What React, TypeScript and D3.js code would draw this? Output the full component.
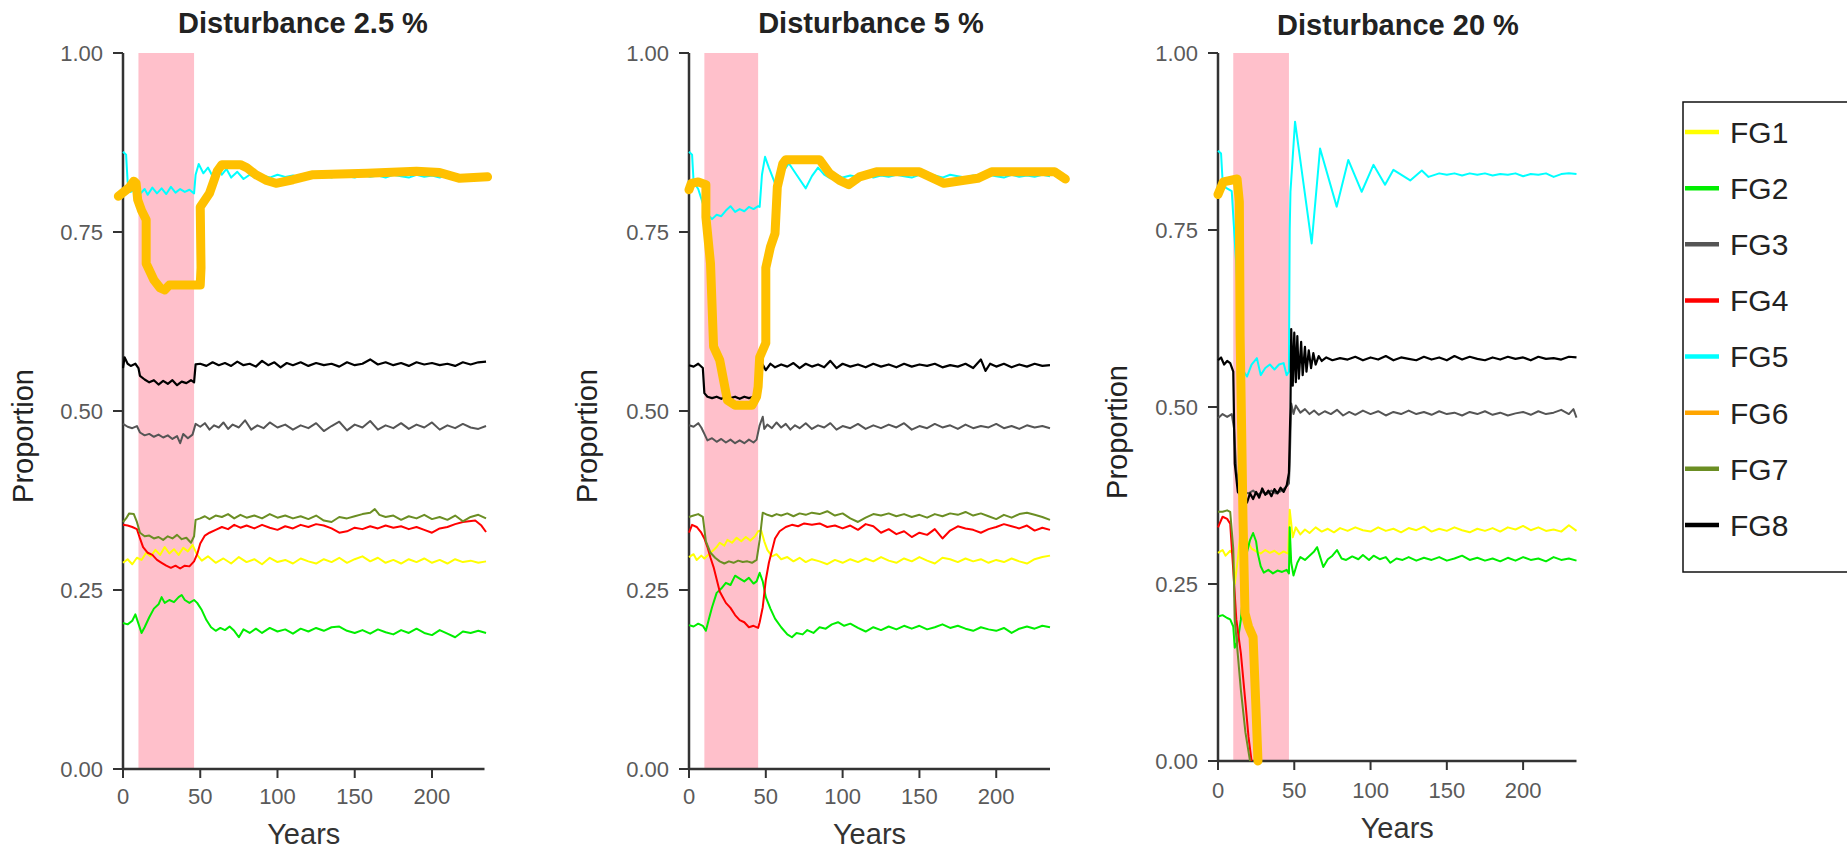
import React from "react";
import * as d3 from "d3";

// ---------- DATA (flat arrays: year, proportion, year, proportion, ...) ----------
const seriesNames = ["FG1", "FG2", "FG3", "FG4", "FG5", "FG6", "FG7", "FG8"];
const seriesColors = ["#FFFF00", "#00EE00", "#555555", "#FF0000", "#00FFFF", "#FFA500", "#6B8E23", "#000000"];
const panelTitles = ["Disturbance 2.5 %", "Disturbance 5 %", "Disturbance 20 %"];
const disturbanceWindows = [[10, 46], [10, 45], [10, 46.5]];
const xTickValues = [0, 50, 100, 150, 200];
const yTickValues = [0, 0.25, 0.5, 0.75, 1];

// Panel 1 : Disturbance 2.5 %
const p1FG1 = [0,.288,3,.293,6,.286,9,.295,12,.292,15,.302,18,.297,21,.306,24,.299,27,.31,30,.301,33,.307,36,.299,39,.309,42,.304,45,.313,48,.299,51,.291,55,.297,60,.288,65,.294,70,.287,75,.296,80,.289,85,.293,90,.286,95,.295,100,.289,105,.292,110,.287,115,.294,120,.29,125,.287,130,.293,135,.289,140,.295,145,.288,150,.293,155,.297,160,.29,165,.295,170,.288,175,.292,180,.287,185,.293,190,.289,195,.294,200,.288,205,.292,210,.287,215,.293,220,.289,225,.291,230,.288,235,.29];
const p1FG2 = [0,.204,3,.202,6,.207,8,.216,10,.203,12,.19,14,.198,17,.212,20,.224,23,.23,25,.24,27,.232,30,.236,33,.233,36,.24,38,.243,40,.236,43,.232,46,.236,48,.232,51,.222,54,.208,57,.198,60,.193,63,.197,66,.194,69,.199,72,.193,75,.184,78,.195,82,.19,86,.196,90,.19,95,.197,100,.192,105,.195,110,.189,115,.196,120,.192,125,.197,130,.193,135,.198,140,.199,145,.193,150,.19,155,.194,160,.189,165,.195,170,.191,175,.188,180,.194,185,.19,190,.196,195,.19,200,.187,205,.194,210,.189,215,.184,220,.192,225,.19,230,.193,235,.19];
const p1FG3 = [0,.482,3,.478,6,.476,9,.479,11,.47,14,.466,17,.468,20,.464,23,.467,26,.463,29,.466,32,.461,35,.465,37,.455,39,.468,42,.462,45,.467,47,.482,50,.478,53,.483,56,.474,59,.48,62,.477,65,.484,68,.475,71,.481,75,.477,79,.487,83,.474,87,.48,91,.476,95,.484,100,.477,105,.481,110,.474,115,.48,120,.476,125,.483,130,.472,135,.479,140,.485,145,.473,150,.481,155,.477,160,.486,165,.474,170,.48,175,.476,180,.483,185,.475,190,.481,195,.477,200,.484,205,.474,210,.48,215,.476,220,.482,225,.477,230,.475,235,.479];
const p1FG4 = [0,.341,3,.34,6,.338,9,.335,11,.322,13,.31,16,.302,19,.299,22,.292,25,.288,28,.284,31,.281,34,.284,37,.28,40,.284,43,.283,46,.29,48,.3,50,.315,53,.326,56,.33,60,.334,64,.338,68,.335,72,.341,76,.337,80,.34,85,.336,90,.341,95,.337,100,.334,105,.339,110,.336,115,.341,120,.338,125,.342,130,.34,135,.336,140,.33,145,.332,150,.337,155,.335,160,.339,165,.336,170,.34,175,.337,180,.339,185,.335,190,.338,195,.334,200,.33,205,.336,210,.338,215,.342,220,.345,228,.347,232,.34,235,.331];
const p1FG5 = [0,.862,2,.858,3,.82,5,.806,8,.81,11,.803,14,.81,16,.802,19,.812,22,.804,25,.811,28,.803,31,.813,34,.805,37,.81,40,.806,43,.809,46,.804,47,.83,49,.845,52,.832,55,.84,58,.828,61,.842,64,.83,67,.838,70,.826,74,.834,78,.824,82,.83,86,.826,90,.829,95,.826,100,.83,105,.827,110,.829,115,.826,120,.83,125,.827,130,.829,135,.826,140,.83,145,.828,150,.826,155,.83,160,.827,165,.829,170,.826,175,.83,180,.828,185,.826,190,.83,195,.827,200,.829,205,.826,210,.83,215,.828,220,.826,225,.829,230,.827,235,.829];
const p1FG6 = [-3,.80,4,.812,7,.821,8.5,.818,9.5,.795,12,.78,15,.767,15,.706,20,.683,24,.672,27,.669,30,.676,40,.676,50,.676,50.5,.70,50,.785,56,.804,61,.835,64,.844,76,.844,80,.84,86,.83,93,.822,99,.818,110,.823,123,.83,158,.832,190,.835,205,.833,218,.825,236,.827];
const p1FG7 = [0,.345,2,.35,4,.357,7,.356,9,.345,11,.33,14,.325,17,.326,20,.322,23,.324,26,.32,29,.325,32,.322,35,.327,38,.321,41,.323,44,.316,46,.325,47,.348,50,.35,53,.353,56,.349,60,.354,64,.352,68,.356,72,.35,76,.355,80,.351,85,.354,90,.35,95,.356,100,.351,105,.354,110,.35,115,.353,120,.349,125,.354,130,.347,135,.345,140,.352,145,.35,150,.353,155,.356,160,.358,163,.363,166,.355,170,.352,175,.354,180,.348,185,.353,190,.35,195,.355,200,.349,205,.352,210,.348,215,.354,220,.346,225,.352,230,.355,235,.35];
const p1FG8 = [0,.56,1,.575,3,.566,5,.563,8,.566,10,.56,11,.549,14,.544,17,.54,20,.543,23,.537,26,.542,29,.538,32,.543,35,.536,38,.541,41,.539,44,.543,46,.54,47,.565,50,.566,54,.563,58,.568,62,.564,66,.567,70,.563,74,.569,78,.564,82,.566,86,.562,90,.57,94,.564,98,.568,102,.561,106,.567,110,.564,115,.568,120,.563,125,.567,130,.564,135,.566,140,.562,145,.568,150,.564,155,.566,160,.572,165,.565,170,.568,175,.564,180,.567,185,.563,190,.568,195,.565,200,.567,205,.564,210,.566,215,.563,220,.568,225,.565,230,.568,235,.569];

// Panel 2 : Disturbance 5 %
const p2FG1 = [0,.296,3,.3,5,.292,8,.298,10,.294,13,.3,16,.306,18,.31,20,.316,23,.312,25,.32,28,.316,31,.323,34,.318,37,.324,40,.319,43,.325,45,.332,47,.333,49,.318,51,.306,54,.297,57,.3,60,.293,64,.296,68,.29,72,.295,76,.289,80,.293,85,.29,90,.286,95,.292,100,.288,105,.293,110,.289,115,.294,120,.29,125,.296,130,.291,135,.288,140,.294,145,.29,150,.296,155,.291,160,.287,165,.295,170,.293,175,.289,180,.294,185,.29,190,.293,195,.288,200,.292,205,.289,210,.294,215,.29,220,.287,225,.293,230,.296,235,.298];
const p2FG2 = [0,.201,3,.199,6,.203,9,.2,11,.193,13,.21,15,.226,18,.246,21,.252,24,.26,27,.257,30,.27,33,.266,36,.262,39,.267,42,.259,44,.262,46,.274,48,.262,50,.24,53,.224,56,.21,60,.198,64,.188,67,.184,70,.19,74,.188,77,.194,81,.19,85,.198,89,.196,93,.202,97,.205,101,.2,105,.203,110,.197,115,.192,120,.198,125,.194,130,.199,135,.195,140,.2,145,.196,150,.2,155,.195,160,.198,165,.202,170,.197,175,.2,180,.196,185,.193,190,.198,195,.195,200,.193,205,.197,210,.19,215,.196,220,.199,225,.196,230,.2,235,.198];
const p2FG3 = [0,.48,3,.478,6,.483,8,.477,10,.468,12,.459,15,.462,18,.457,21,.461,24,.456,27,.46,30,.455,33,.459,36,.455,39,.46,42,.456,44,.46,46,.48,48,.492,49,.475,51,.481,54,.476,57,.484,60,.477,63,.482,66,.474,69,.48,72,.476,76,.483,80,.475,84,.48,88,.477,92,.483,96,.474,100,.479,105,.476,110,.482,115,.475,120,.48,125,.476,130,.481,135,.477,140,.483,145,.474,150,.479,155,.476,160,.482,165,.477,170,.48,175,.475,180,.481,185,.476,190,.479,195,.477,200,.482,205,.476,210,.479,215,.475,220,.48,225,.477,230,.479,235,.476];
const p2FG4 = [0,.33,2,.341,5,.338,8,.33,10,.322,12,.31,14,.295,16,.282,18,.265,20,.248,22,.24,24,.232,27,.225,30,.215,33,.208,36,.205,39,.198,42,.2,45,.197,46,.205,48,.226,50,.264,52,.288,54,.305,56,.322,59,.332,63,.338,67,.341,71,.339,75,.343,80,.341,85,.343,90,.338,95,.34,100,.336,105,.34,110,.334,115,.342,120,.339,125,.33,130,.335,135,.328,140,.332,145,.324,150,.33,155,.327,160,.335,165,.322,170,.333,175,.339,180,.336,185,.334,190,.33,195,.335,200,.338,205,.342,210,.339,215,.336,220,.34,225,.333,230,.337,235,.334];
const p2FG5 = [0,.862,2,.858,3,.82,6,.81,9,.79,12,.775,15,.768,18,.774,21,.772,24,.78,27,.786,30,.778,33,.782,36,.779,39,.785,42,.782,45,.786,46,.785,47.5,.83,49.5,.855,52,.84,56,.818,60,.83,65,.846,70,.83,76,.811,80,.828,84,.84,88,.83,92,.825,96,.83,100,.826,105,.829,110,.827,115,.83,120,.826,125,.829,130,.827,135,.83,140,.828,145,.826,150,.83,155,.827,160,.829,165,.826,170,.83,175,.828,180,.826,185,.829,190,.827,195,.83,200,.828,205,.826,210,.83,215,.827,220,.829,225,.827,230,.83,235,.828];
const p2FG6 = [0,.809,1.5,.818,6,.82,11,.816,11,.771,14,.706,16,.59,20,.571,25,.515,30,.508,41,.508,44,.52,45,.534,46,.575,50,.595,50,.70,53,.729,56,.748,57.5,.813,61,.845,63,.851,85,.851,91.5,.832,98,.822,104,.816,111,.827,122,.834,150,.834,166,.818,188,.825,197,.834,238,.834,245,.824];
const p2FG7 = [0,.352,3,.354,6,.356,9,.352,11,.318,14,.302,17,.295,20,.29,23,.287,26,.29,29,.288,32,.291,35,.289,38,.29,41,.288,44,.292,46,.32,48,.358,51,.355,54,.353,57,.356,60,.354,64,.357,68,.353,72,.357,76,.355,80,.358,85,.356,90,.36,95,.354,100,.357,105,.35,110,.345,115,.351,120,.356,125,.354,130,.357,135,.353,140,.356,145,.352,150,.355,155,.351,160,.356,165,.353,170,.357,175,.355,180,.359,185,.354,190,.357,195,.353,200,.349,205,.355,210,.351,215,.356,220,.358,225,.355,230,.352,235,.348];
const p2FG8 = [0,.564,3,.562,6,.566,9,.56,10,.525,12,.52,15,.518,18,.52,21,.517,24,.521,27,.518,30,.52,33,.517,36,.52,39,.518,42,.52,44,.518,46,.53,48,.565,50,.557,53,.566,56,.561,60,.565,64,.562,68,.567,72,.56,76,.566,80,.562,84,.565,88,.561,92,.57,96,.56,100,.566,105,.562,110,.565,115,.561,120,.566,125,.562,130,.565,135,.561,140,.566,145,.562,150,.565,155,.563,160,.566,165,.561,170,.564,175,.562,180,.566,185,.56,190,.572,193,.556,196,.566,200,.562,205,.566,210,.561,215,.565,220,.562,225,.566,230,.563,235,.564];

// Panel 3 : Disturbance 20 %
const p3FG1 = [0,.294,3,.298,5,.29,8,.297,10,.292,11,.25,13,.285,15,.33,17,.322,19,.312,22,.3,25,.296,28,.293,31,.298,34,.294,37,.297,40,.292,43,.296,46,.293,47,.355,49,.316,51,.33,54,.32,57,.327,60,.322,64,.33,68,.324,72,.328,76,.323,80,.329,85,.325,90,.33,95,.326,100,.324,105,.33,110,.325,115,.328,120,.323,125,.329,130,.326,135,.331,140,.324,145,.328,150,.325,155,.33,160,.326,165,.323,170,.328,175,.325,180,.329,185,.324,190,.33,195,.327,200,.332,205,.326,210,.33,215,.325,220,.327,225,.324,230,.333,235,.325];
const p3FG2 = [0,.204,3,.206,6,.202,8,.2,10,.19,11,.16,13,.17,15,.2,17,.25,19,.295,21,.312,23,.322,25,.31,26,.294,28,.275,30,.266,33,.27,36,.265,39,.269,42,.267,45,.27,46.5,.265,47,.33,48,.28,49.5,.262,52,.28,54,.288,57,.284,60,.29,63,.296,65,.302,67,.288,69,.274,72,.285,75,.29,78,.298,81,.286,84,.284,88,.289,92,.285,95,.291,99,.284,102,.29,106,.285,110,.288,113,.28,117,.286,121,.284,125,.288,130,.283,135,.287,140,.284,145,.288,150,.283,155,.286,160,.29,165,.284,170,.287,175,.283,180,.286,185,.282,190,.287,195,.283,200,.288,205,.284,210,.286,215,.282,220,.288,225,.284,230,.286,235,.283];
const p3FG3 = [0,.484,3,.49,6,.486,9,.49,10.5,.47,12,.41,14,.385,17,.38,20,.378,23,.382,26,.376,29,.38,32,.377,35,.382,38,.378,41,.381,44,.386,46.5,.392,47,.42,48,.505,49.5,.49,51,.502,54,.492,57,.497,60,.49,63,.495,66,.489,70,.494,74,.49,78,.496,82,.488,86,.493,90,.489,95,.495,100,.49,105,.494,110,.488,115,.493,120,.49,125,.495,130,.49,135,.493,140,.489,145,.494,150,.49,155,.492,160,.488,165,.493,170,.49,175,.494,180,.489,185,.492,190,.488,195,.491,200,.493,205,.489,210,.494,215,.49,220,.492,225,.496,230,.49,233,.497,235,.485];
const p3FG4 = [0,.33,3,.345,6,.342,8,.335,10,.27,12,.2,15,.152,18,.082,20,.034,22,0];
const p3FG5 = [0,.862,2,.858,3,.82,5,.81,9,.805,12,.7,14,.6,16,.553,19,.543,22,.56,25.5,.569,28,.545,31,.555,34,.56,37,.553,40,.56,43,.562,45,.545,46.5,.55,47,.75,47.5,.804,50.5,.903,61.4,.731,66.9,.865,77.8,.783,85.4,.849,94.2,.804,101.9,.842,109.5,.814,115,.835,126,.82,133.6,.834,138,.825,145,.83,150,.828,155,.83,160,.827,165,.83,170,.828,175,.83,180,.827,185,.829,190,.828,195,.83,200,.826,205,.829,210,.828,215,.83,220,.825,225,.829,230,.83,235,.829];
const p3FG6 = [0,.80,3.5,.818,12.5,.822,14,.79,14.5,.6,15.5,.467,16.4,.34,17.7,.209,20,.19,23,.175,25,.068,26.2,0];
const p3FG7 = [0,.352,3,.352,6,.354,8,.352,10,.3,11,.2,13,.15,15,.1,18,.04,21,0];
const p3FG8 = [0,.566,2,.57,4,.56,6,.565,8,.562,10,.55,11,.42,13,.38,15,.375,17,.372,19,.365,21,.378,23,.37,25,.38,27,.372,29,.385,31,.376,33,.382,35,.374,37,.384,39,.378,41,.386,43,.38,45,.389,46.5,.407,47.5,.5,48,.61,49,.53,50,.605,51,.535,52,.6,53,.54,54.5,.592,55.5,.545,57,.585,58,.55,59.5,.58,61,.555,62.5,.576,64,.56,66,.572,68,.565,71,.57,75,.566,80,.569,85,.567,90,.571,95,.566,100,.57,105,.567,110,.572,115,.566,120,.57,125,.568,130,.566,135,.571,140,.567,145,.57,150,.566,155,.572,160,.567,165,.571,170,.568,175,.566,180,.57,185,.567,190,.571,195,.568,200,.57,205,.566,210,.571,215,.568,220,.569,225,.567,230,.571,235,.57];

const panelSeries = [
  [p1FG1, p1FG2, p1FG3, p1FG4, p1FG5, p1FG6, p1FG7, p1FG8],
  [p2FG1, p2FG2, p2FG3, p2FG4, p2FG5, p2FG6, p2FG7, p2FG8],
  [p3FG1, p3FG2, p3FG3, p3FG4, p3FG5, p3FG6, p3FG7, p3FG8],
];

// ---------- LAYOUT ----------
const W = 1847;
const H = 851;
const layouts = [
  { x0: 123, x1: 484.5, xMax: 234, yBottom: 769, yTop: 53, titleX: 303, titleY: 33, yLabelX: 33, xLabelY: 844, xTickY: 804 },
  { x0: 689, x1: 1050, xMax: 235, yBottom: 769, yTop: 53, titleX: 871, titleY: 33, yLabelX: 597, xLabelY: 844, xTickY: 804 },
  { x0: 1218, x1: 1576.5, xMax: 235, yBottom: 761, yTop: 53, titleX: 1398, titleY: 35, yLabelX: 1127, xLabelY: 838, xTickY: 798 },
];
const FONT = "'Liberation Sans', Arial, Helvetica, sans-serif";
const AMBER = "#FFC000";

function pairs(flat: number[]): [number, number][] {
  const out: [number, number][] = [];
  for (let i = 0; i < flat.length; i += 2) out.push([flat[i], flat[i + 1]]);
  return out;
}

function Panel({ idx }: { idx: number }) {
  const L = layouts[idx];
  const x = d3.scaleLinear().domain([0, L.xMax]).range([L.x0, L.x1]);
  const y = d3.scaleLinear().domain([0, 1]).range([L.yBottom, L.yTop]);
  const line = d3
    .line<[number, number]>()
    .x((d) => x(d[0]))
    .y((d) => y(d[1]));
  const [d0, d1] = disturbanceWindows[idx];
  const fmt = d3.format(".2f");
  const series = panelSeries[idx];
  const order = [0, 1, 2, 3, 6, 4, 7];
  return (
    <g>
      <text x={L.titleX} y={L.titleY} textAnchor="middle" fontFamily={FONT} fontWeight="bold" fontSize={29} fill="#222">
        {panelTitles[idx]}
      </text>
      <rect x={x(d0)} y={y(1)} width={x(d1) - x(d0)} height={y(0) - y(1)} fill="#FFC0CB" />
      {/* axes */}
      <line x1={x(0)} x2={x(0)} y1={y(1)} y2={y(0)} stroke="#333" strokeWidth={2.5} />
      <line x1={x(0) - 1} x2={L.x1} y1={y(0)} y2={y(0)} stroke="#333" strokeWidth={2.5} />
      {yTickValues.map((t) => (
        <g key={"y" + t}>
          <line x1={x(0) - 10} x2={x(0)} y1={y(t)} y2={y(t)} stroke="#333" strokeWidth={2} />
          <text x={x(0) - 20} y={y(t)} dy="0.35em" textAnchor="end" fontFamily={FONT} fontSize={22} fill="#5a5a5a">
            {fmt(t)}
          </text>
        </g>
      ))}
      {xTickValues.map((t) => (
        <g key={"x" + t}>
          <line x1={x(t)} x2={x(t)} y1={y(0)} y2={y(0) + 9} stroke="#333" strokeWidth={2} />
          <text x={x(t)} y={L.xTickY} textAnchor="middle" fontFamily={FONT} fontSize={22} fill="#5a5a5a">
            {t}
          </text>
        </g>
      ))}
      <text
        transform={`translate(${L.yLabelX},${(y(0) + y(1)) / 2 + 25}) rotate(-90)`}
        textAnchor="middle"
        fontFamily={FONT}
        fontSize={29}
        fill="#222"
      >
        Proportion
      </text>
      <text x={(L.x0 + L.x1) / 2} y={L.xLabelY} textAnchor="middle" fontFamily={FONT} fontSize={29} fill="#333">
        Years
      </text>
      {order.map((s) => (
        <path
          key={s}
          d={line(pairs(series[s])) || ""}
          fill="none"
          stroke={seriesColors[s]}
          strokeWidth={s === 7 ? 2.2 : 2}
          strokeLinejoin="round"
        />
      ))}
      {/* FG6 (highlighted) */}
      <path
        d={line(pairs(series[5])) || ""}
        fill="none"
        stroke={AMBER}
        strokeWidth={9}
        strokeLinejoin="round"
        strokeLinecap="round"
      />
    </g>
  );
}

function Legend() {
  const rowY = d3.scaleLinear().domain([0, 7]).range([132, 525]);
  return (
    <g>
      <rect x={1683} y={102} width={180} height={470} fill="#fff" stroke="#111" strokeWidth={1.5} />
      {seriesNames.map((n, i) => (
        <g key={n}>
          <line x1={1685} x2={1719} y1={rowY(i)} y2={rowY(i)} stroke={seriesColors[i]} strokeWidth={4.5} />
          <text x={1730} y={rowY(i)} dy="0.36em" fontFamily={FONT} fontSize={30} fill="#222">
            {n}
          </text>
        </g>
      ))}
    </g>
  );
}

export default function App() {
  return (
    <svg
      width={W}
      height={H}
      viewBox={`0 0 ${W} ${H}`}
      style={{ position: "absolute", left: 0, top: 0, background: "#fff" }}
    >
      <rect x={0} y={0} width={W} height={H} fill="#fff" />
      {[0, 1, 2].map((i) => (
        <Panel key={i} idx={i} />
      ))}
      <Legend />
    </svg>
  );
}
